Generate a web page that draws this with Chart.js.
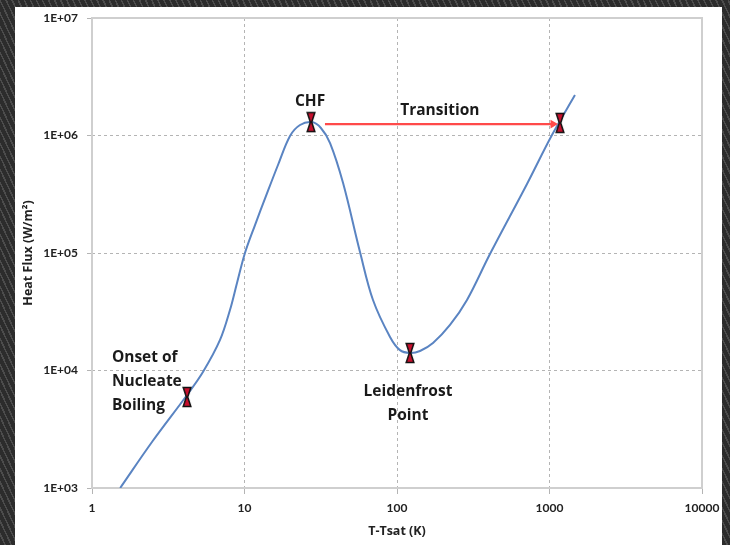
<!DOCTYPE html>
<html>
<head>
<meta charset="utf-8">
<script src="https://cdn.jsdelivr.net/npm/chart.js@4"></script>
<style>
  html, body { margin: 0; padding: 0; }
  body {
    width: 730px; height: 545px; overflow: hidden; position: relative;
    background: repeating-linear-gradient(65deg, #2c2c2c 0px, #2c2c2c 4px, #4c4c4c 4px, #4c4c4c 5.5px);
  }
  #panel {
    position: absolute; left: 15px; top: 7px; width: 707px; height: 538px;
    background: #fff;
  }
</style>
</head>
<body>
<div id="panel"><canvas id="boiling"></canvas></div>
<script>
// boiling curve (T-Tsat in K, heat flux in W/m2)
const curveX = [1.53, 2.5, 4.2, 5.34, 6.91, 8.03, 8.93, 10.07, 11.72, 13.84, 16.58, 19.88, 23.12, 27.7, 31.7, 36.4, 44.3, 57.2, 69.6, 90, 104.6, 121.7, 141.5, 172.2, 222.6, 287.7, 407, 712, 1038, 1469];
const curveY = [1000, 2510, 6190, 9700, 18200, 32700, 55600, 100000, 173000, 306000, 561000, 990000, 1228000, 1300000, 1158000, 863000, 394000, 102000, 39800, 19300, 14900, 14100, 14660, 17140, 24400, 39800, 98000, 387000, 1010000, 2210000];

// marked points: onset, CHF, Leidenfrost, transition end
const markX = [4.2, 27.3, 121.7, 1172];
const markY = [5950, 1300000, 14100, 1280000];

// transition arrow
const arrowX = [33.7, 1054];
const arrowY = [1250000, 1250000];

const xTickValues = [1, 10, 100, 1000, 10000];
const xTickLabels = ['1', '10', '100', '1000', '10000'];
const yTickValues = [1e3, 1e4, 1e5, 1e6, 1e7];
const yTickLabels = ['1E+03', '1E+04', '1E+05', '1E+06', '1E+07'];

// annotation texts, anchored in data coordinates
const noteText = [['CHF'], ['Transition'], ['Onset of', 'Nucleate', 'Boiling'], ['Leidenfrost', 'Point']];
const noteX = [26.9, 191, 1.35, 118];
const noteY = [1930000, 1620000, 13000, 6560];
const noteAlign = ['center', 'center', 'left', 'center'];

// hourglass marker
const glass = document.createElement('canvas');
glass.width = 10; glass.height = 22;
(function () {
  const g = glass.getContext('2d');
  g.beginPath();
  g.moveTo(1.2, 1.5); g.lineTo(8.8, 1.5); g.lineTo(5.7, 11); g.lineTo(8.8, 20.5);
  g.lineTo(1.2, 20.5); g.lineTo(4.3, 11); g.closePath();
  g.fillStyle = '#c8102e';
  g.fill();
  g.lineWidth = 1.5;
  g.strokeStyle = '#111';
  g.stroke();
})();

const pts = (xs, ys) => xs.map((x, i) => ({ x: x, y: ys[i] }));

const frameAndNotes = {
  id: 'frameAndNotes',
  beforeDatasetsDraw(chart) {
    const { ctx, chartArea: a } = chart;
    ctx.save();
    ctx.strokeStyle = '#cfcfcf';
    ctx.lineWidth = 2;
    ctx.strokeRect(a.left, a.top, a.right - a.left, a.bottom - a.top);
    ctx.restore();
  },
  afterDatasetsDraw(chart) {
    const { ctx, scales } = chart;
    ctx.save();
    ctx.font = 'bold 15.5px "Open Sans"';
    ctx.fillStyle = '#1a1a1a';
    ctx.textBaseline = 'middle';
    noteText.forEach((lines, i) => {
      const px = scales.x.getPixelForValue(noteX[i]);
      const py = scales.y.getPixelForValue(noteY[i]);
      ctx.textAlign = noteAlign[i];
      lines.forEach((t, k) => ctx.fillText(t, px, py + k * 24));
    });
    ctx.restore();
  }
};

const ctx = document.getElementById('boiling').getContext('2d');
const chart = new Chart(ctx, {
  type: 'scatter',
  data: {
    datasets: [
      {
        data: pts(markX, markY),
        pointStyle: glass,
        pointRadius: 5,
        order: 0
      },
      {
        data: pts(arrowX, arrowY),
        showLine: true,
        borderColor: '#ff4a4a',
        backgroundColor: '#ff4a4a',
        borderWidth: 2.2,
        pointStyle: 'triangle',
        pointRotation: 90,
        pointRadius: [0, 5],
        pointBorderWidth: 0,
        order: 1
      },
      {
        data: pts(curveX, curveY),
        showLine: true,
        borderColor: '#5a84c2',
        borderWidth: 2,
        pointRadius: 0,
        tension: 0.35,
        order: 2
      }
    ]
  },
  options: {
    responsive: true,
    maintainAspectRatio: false,
    animation: false,
    devicePixelRatio: 1,
    layout: { padding: { top: 11, right: 20, left: 0, bottom: 0 } },
    plugins: { legend: { display: false }, tooltip: { enabled: false } },
    scales: {
      x: {
        type: 'logarithmic',
        min: 1,
        max: 10000,
        afterBuildTicks: axis => { axis.ticks = xTickValues.map(v => ({ value: v })); },
        afterFit: scale => { scale.height = 57; scale.paddingLeft = 0; scale.paddingRight = 0; },
        ticks: {
          callback: v => xTickLabels[xTickValues.indexOf(v)],
          font: { family: 'Lato', size: 12, weight: 'bold' },
          color: '#222',
          padding: 7,
          maxRotation: 0
        },
        grid: { color: '#b4b4b4', tickLength: 6 },
        border: { display: false, dash: [3, 3] },
        title: {
          display: true,
          text: 'T-Tsat (K)',
          font: { family: 'Open Sans', size: 12.5, weight: 'bold' },
          color: '#222',
          padding: { top: 6, bottom: 6 }
        }
      },
      y: {
        type: 'logarithmic',
        min: 1000,
        max: 1e7,
        afterBuildTicks: axis => { axis.ticks = yTickValues.map(v => ({ value: v })); },
        afterFit: scale => { scale.width = 77; scale.paddingTop = 0; scale.paddingBottom = 0; },
        ticks: {
          callback: v => yTickLabels[yTickValues.indexOf(v)],
          font: { family: 'Lato', size: 12, weight: 'bold' },
          color: '#222',
          padding: 9
        },
        grid: { color: '#b4b4b4', tickLength: 5 },
        border: { display: false, dash: [3, 3] },
        title: {
          display: true,
          text: 'Heat Flux (W/m²)',
          font: { family: 'Open Sans', size: 12.5, weight: 'bold' },
          color: '#222',
          padding: { top: 6, bottom: 6 }
        }
      }
    }
  },
  plugins: [frameAndNotes]
});
</script>
</body>
</html>
